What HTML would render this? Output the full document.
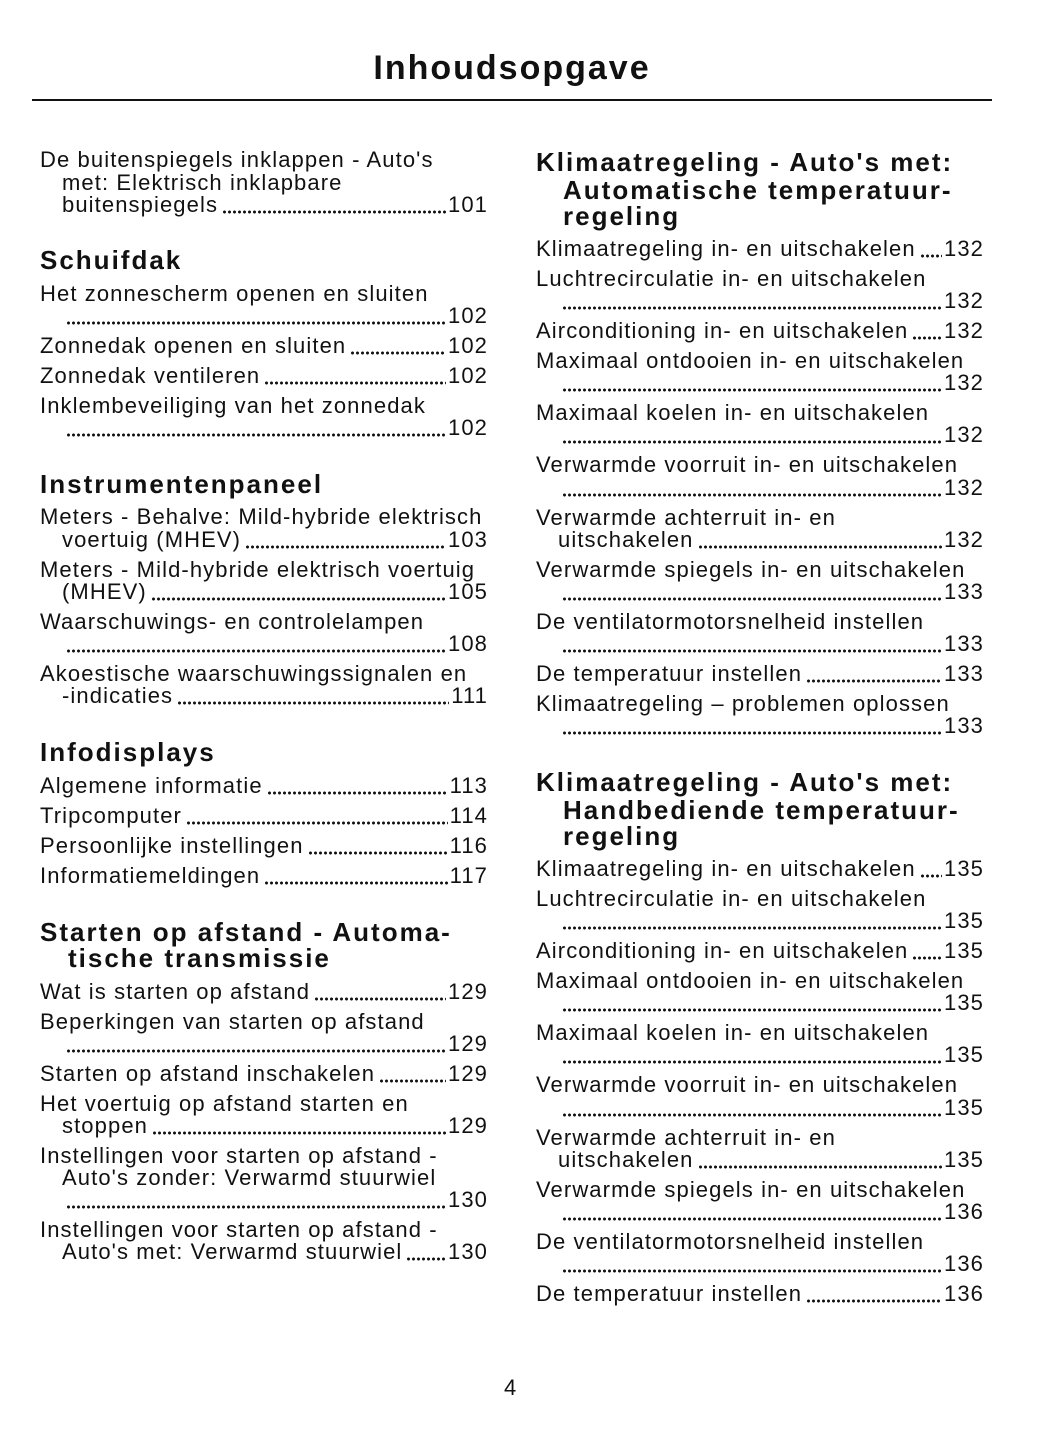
<!DOCTYPE html>
<html><head><meta charset="utf-8">
<style>
body{margin:0;background:#fff;}
#pg{position:relative;width:1056px;height:1449px;overflow:hidden;font-family:"Liberation Sans",sans-serif;color:#111;}
.t{position:absolute;font-size:34px;font-weight:bold;left:0;width:1024px;text-align:center;top:46px;line-height:44px;letter-spacing:2px;}
.rule{position:absolute;left:32px;width:960px;top:99px;height:2px;background:#111;}
.l{position:absolute;height:26px;line-height:26px;font-size:22px;display:flex;white-space:nowrap;letter-spacing:1.1px;}
.L{width:448px}
.R{width:448px}
.d{flex:1;margin:0 2px 0 4px;background:radial-gradient(circle,#111 1.3px,transparent 1.7px) repeat-x;background-size:5px 4px;background-position:left bottom 4px;}
.h{position:absolute;font-size:26px;font-weight:bold;line-height:28px;white-space:nowrap;letter-spacing:2px;}
</style></head><body><div id="pg">
<div class="t">Inhoudsopgave</div>
<div class="rule"></div>

<!-- LEFT -->
<div class="l" style="left:40px;top:147px">De buitenspiegels inklappen - Auto's</div>
<div class="l" style="left:62px;top:170px">met: Elektrisch inklapbare</div>
<div class="l" style="left:62px;top:192px;width:426px"><span>buitenspiegels</span><span class="d"></span><span>101</span></div>
<div class="h" style="left:40px;top:246px">Schuifdak</div>
<div class="l" style="left:40px;top:281px">Het zonnescherm openen en sluiten</div>
<div class="l" style="left:62px;top:303px;width:426px"><span class="d"></span><span>102</span></div>
<div class="l L" style="left:40px;top:333px"><span>Zonnedak openen en sluiten</span><span class="d"></span><span>102</span></div>
<div class="l L" style="left:40px;top:363px"><span>Zonnedak ventileren</span><span class="d"></span><span>102</span></div>
<div class="l" style="left:40px;top:393px">Inklembeveiliging van het zonnedak</div>
<div class="l" style="left:62px;top:415px;width:426px"><span class="d"></span><span>102</span></div>
<div class="h" style="left:40px;top:470px">Instrumentenpaneel</div>
<div class="l" style="left:40px;top:504px">Meters - Behalve: Mild-hybride elektrisch</div>
<div class="l" style="left:62px;top:527px;width:426px"><span>voertuig (MHEV)</span><span class="d"></span><span>103</span></div>
<div class="l" style="left:40px;top:557px">Meters - Mild-hybride elektrisch voertuig</div>
<div class="l" style="left:62px;top:579px;width:426px"><span>(MHEV)</span><span class="d"></span><span>105</span></div>
<div class="l" style="left:40px;top:609px">Waarschuwings- en controlelampen</div>
<div class="l" style="left:62px;top:631px;width:426px"><span class="d"></span><span>108</span></div>
<div class="l" style="left:40px;top:661px">Akoestische waarschuwingssignalen en</div>
<div class="l" style="left:62px;top:683px;width:426px"><span>-indicaties</span><span class="d"></span><span>111</span></div>
<div class="h" style="left:40px;top:738px">Infodisplays</div>
<div class="l L" style="left:40px;top:773px"><span>Algemene informatie</span><span class="d"></span><span>113</span></div>
<div class="l L" style="left:40px;top:803px"><span>Tripcomputer</span><span class="d"></span><span>114</span></div>
<div class="l L" style="left:40px;top:833px"><span>Persoonlijke instellingen</span><span class="d"></span><span>116</span></div>
<div class="l L" style="left:40px;top:863px"><span>Informatiemeldingen</span><span class="d"></span><span>117</span></div>
<div class="h" style="left:40px;top:918px">Starten op afstand - Automa-</div>
<div class="h" style="left:68px;top:944px">tische transmissie</div>
<div class="l L" style="left:40px;top:979px"><span>Wat is starten op afstand</span><span class="d"></span><span>129</span></div>
<div class="l" style="left:40px;top:1009px">Beperkingen van starten op afstand</div>
<div class="l" style="left:62px;top:1031px;width:426px"><span class="d"></span><span>129</span></div>
<div class="l L" style="left:40px;top:1061px"><span>Starten op afstand inschakelen</span><span class="d"></span><span>129</span></div>
<div class="l" style="left:40px;top:1091px">Het voertuig op afstand starten en</div>
<div class="l" style="left:62px;top:1113px;width:426px"><span>stoppen</span><span class="d"></span><span>129</span></div>
<div class="l" style="left:40px;top:1143px">Instellingen voor starten op afstand -</div>
<div class="l" style="left:62px;top:1165px">Auto's zonder: Verwarmd stuurwiel</div>
<div class="l" style="left:62px;top:1187px;width:426px"><span class="d"></span><span>130</span></div>
<div class="l" style="left:40px;top:1217px">Instellingen voor starten op afstand -</div>
<div class="l" style="left:62px;top:1239px;width:426px"><span>Auto's met: Verwarmd stuurwiel</span><span class="d"></span><span>130</span></div>

<!-- RIGHT -->
<div class="h" style="left:536px;top:148px">Klimaatregeling - Auto's met:</div>
<div class="h" style="left:563px;top:176px">Automatische temperatuur-</div>
<div class="h" style="left:563px;top:202px">regeling</div>
<div class="l R" style="left:536px;top:236px"><span>Klimaatregeling in- en uitschakelen</span><span class="d"></span><span>132</span></div>
<div class="l" style="left:536px;top:266px">Luchtrecirculatie in- en uitschakelen</div>
<div class="l" style="left:558px;top:288px;width:426px"><span class="d"></span><span>132</span></div>
<div class="l R" style="left:536px;top:318px"><span>Airconditioning in- en uitschakelen</span><span class="d"></span><span>132</span></div>
<div class="l" style="left:536px;top:348px">Maximaal ontdooien in- en uitschakelen</div>
<div class="l" style="left:558px;top:370px;width:426px"><span class="d"></span><span>132</span></div>
<div class="l" style="left:536px;top:400px">Maximaal koelen in- en uitschakelen</div>
<div class="l" style="left:558px;top:422px;width:426px"><span class="d"></span><span>132</span></div>
<div class="l" style="left:536px;top:452px">Verwarmde voorruit in- en uitschakelen</div>
<div class="l" style="left:558px;top:475px;width:426px"><span class="d"></span><span>132</span></div>
<div class="l" style="left:536px;top:505px">Verwarmde achterruit in- en</div>
<div class="l" style="left:558px;top:527px;width:426px"><span>uitschakelen</span><span class="d"></span><span>132</span></div>
<div class="l" style="left:536px;top:557px">Verwarmde spiegels in- en uitschakelen</div>
<div class="l" style="left:558px;top:579px;width:426px"><span class="d"></span><span>133</span></div>
<div class="l" style="left:536px;top:609px">De ventilatormotorsnelheid instellen</div>
<div class="l" style="left:558px;top:631px;width:426px"><span class="d"></span><span>133</span></div>
<div class="l R" style="left:536px;top:661px"><span>De temperatuur instellen</span><span class="d"></span><span>133</span></div>
<div class="l" style="left:536px;top:691px">Klimaatregeling – problemen oplossen</div>
<div class="l" style="left:558px;top:713px;width:426px"><span class="d"></span><span>133</span></div>

<div class="h" style="left:536px;top:768px">Klimaatregeling - Auto's met:</div>
<div class="h" style="left:563px;top:796px">Handbediende temperatuur-</div>
<div class="h" style="left:563px;top:822px">regeling</div>
<div class="l R" style="left:536px;top:856px"><span>Klimaatregeling in- en uitschakelen</span><span class="d"></span><span>135</span></div>
<div class="l" style="left:536px;top:886px">Luchtrecirculatie in- en uitschakelen</div>
<div class="l" style="left:558px;top:908px;width:426px"><span class="d"></span><span>135</span></div>
<div class="l R" style="left:536px;top:938px"><span>Airconditioning in- en uitschakelen</span><span class="d"></span><span>135</span></div>
<div class="l" style="left:536px;top:968px">Maximaal ontdooien in- en uitschakelen</div>
<div class="l" style="left:558px;top:990px;width:426px"><span class="d"></span><span>135</span></div>
<div class="l" style="left:536px;top:1020px">Maximaal koelen in- en uitschakelen</div>
<div class="l" style="left:558px;top:1042px;width:426px"><span class="d"></span><span>135</span></div>
<div class="l" style="left:536px;top:1072px">Verwarmde voorruit in- en uitschakelen</div>
<div class="l" style="left:558px;top:1095px;width:426px"><span class="d"></span><span>135</span></div>
<div class="l" style="left:536px;top:1125px">Verwarmde achterruit in- en</div>
<div class="l" style="left:558px;top:1147px;width:426px"><span>uitschakelen</span><span class="d"></span><span>135</span></div>
<div class="l" style="left:536px;top:1177px">Verwarmde spiegels in- en uitschakelen</div>
<div class="l" style="left:558px;top:1199px;width:426px"><span class="d"></span><span>136</span></div>
<div class="l" style="left:536px;top:1229px">De ventilatormotorsnelheid instellen</div>
<div class="l" style="left:558px;top:1251px;width:426px"><span class="d"></span><span>136</span></div>
<div class="l R" style="left:536px;top:1281px"><span>De temperatuur instellen</span><span class="d"></span><span>136</span></div>

<div class="l" style="left:504px;top:1375px">4</div>
</div></body></html>
